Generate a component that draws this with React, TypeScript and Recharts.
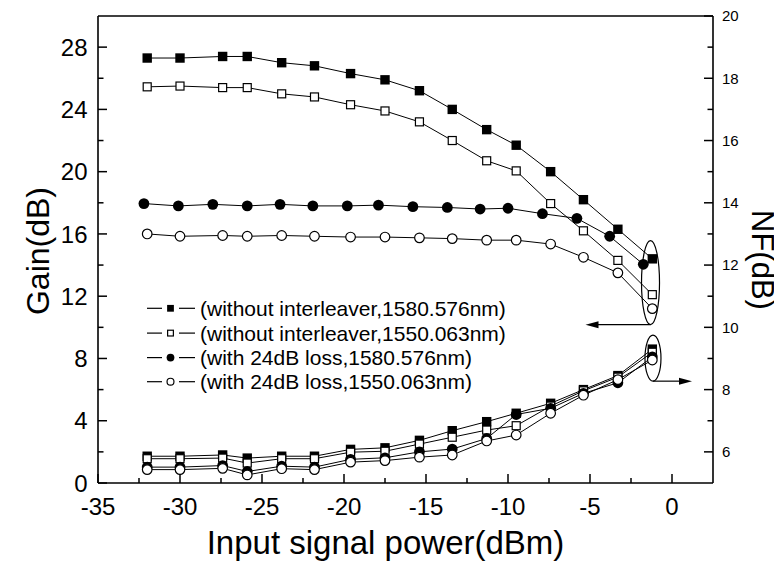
import React from 'react';
import { LineChart, Line, XAxis, YAxis, ReferenceLine, ReferenceDot } from 'recharts';

// input power (dBm) where each curve was sampled
const xSquare = [-32.0, -30.0, -27.4, -25.9, -23.8, -21.8, -19.6, -17.5, -15.4, -13.4, -11.3, -9.5, -7.4, -5.4, -3.3, -1.2];
const xCircle = [-32.2, -30.1, -28.0, -25.9, -23.9, -21.9, -19.8, -17.9, -15.8, -13.7, -11.7, -10.0, -7.9, -5.8, -3.8, -1.75];

// gain (dB), left axis
const gainFilledSquare = [27.3, 27.3, 27.4, 27.4, 27.0, 26.8, 26.3, 25.9, 25.2, 24.0, 22.7, 21.7, 20.0, 18.2, 16.3, 14.4];
const gainOpenSquare = [25.45, 25.5, 25.4, 25.4, 25.0, 24.8, 24.3, 23.9, 23.2, 22.0, 20.7, 20.05, 17.95, 16.2, 14.3, 12.1];
const gainFilledCircle = [17.95, 17.8, 17.9, 17.8, 17.9, 17.8, 17.8, 17.85, 17.75, 17.7, 17.6, 17.65, 17.3, 17.0, 15.85, 14.05];
const gainOpenCircle = [16.0, 15.85, 15.9, 15.85, 15.9, 15.85, 15.8, 15.8, 15.75, 15.7, 15.6, 15.6, 15.35, 14.5, 13.5, 11.2];

// noise figure (dB), right axis
const nfFilledSquare = [5.86, 5.86, 5.9, 5.8, 5.86, 5.86, 6.08, 6.13, 6.37, 6.68, 6.97, 7.24, 7.56, 8.0, 8.45, 9.3];
const nfOpenSquare = [5.78, 5.78, 5.8, 5.64, 5.78, 5.78, 5.99, 6.02, 6.25, 6.47, 6.7, 6.84, 7.47, 7.96, 8.4, 9.2];
const nfFilledCircle = [5.51, 5.51, 5.56, 5.37, 5.54, 5.51, 5.76, 5.81, 6.0, 6.09, 6.43, 7.2, 7.4, 7.88, 8.22, 9.05];
const nfOpenCircle = [5.43, 5.43, 5.47, 5.26, 5.46, 5.43, 5.67, 5.72, 5.83, 5.9, 6.35, 6.54, 7.24, 7.82, 8.32, 8.95];

const xTicks = [-35, -32.5, -30, -27.5, -25, -22.5, -20, -17.5, -15, -12.5, -10, -7.5, -5, -2.5, 0];
const gainTicks = [0, 2, 4, 6, 8, 10, 12, 14, 16, 18, 20, 22, 24, 26, 28];
const nfTicks = [6, 7, 8, 9, 10, 11, 12, 13, 14, 15, 16, 17, 18, 19, 20];

const legendLabels = [
  '(without interleaver,1580.576nm)',
  '(without interleaver,1550.063nm)',
  '(with 24dB loss,1580.576nm)',
  '(with 24dB loss,1550.063nm)',
];

type Kind = 'filledSquare' | 'openSquare' | 'filledCircle' | 'openCircle';
const kinds: Kind[] = ['filledSquare', 'openSquare', 'filledCircle', 'openCircle'];

const FONT = '"Liberation Sans", Arial, Helvetica, sans-serif';

const toRows = (xs: number[], ys: number[]) => xs.map((x, i) => ({ x, y: ys[i] }));

const series = [
  { id: 'g0', axis: 'gain', kind: kinds[0], data: toRows(xSquare, gainFilledSquare) },
  { id: 'g1', axis: 'gain', kind: kinds[1], data: toRows(xSquare, gainOpenSquare) },
  { id: 'g2', axis: 'gain', kind: kinds[2], data: toRows(xCircle, gainFilledCircle) },
  { id: 'g3', axis: 'gain', kind: kinds[3], data: toRows(xSquare, gainOpenCircle) },
  { id: 'n0', axis: 'nf', kind: kinds[0], data: toRows(xSquare, nfFilledSquare) },
  { id: 'n1', axis: 'nf', kind: kinds[1], data: toRows(xSquare, nfOpenSquare) },
  { id: 'n2', axis: 'nf', kind: kinds[2], data: toRows(xSquare, nfFilledCircle) },
  { id: 'n3', axis: 'nf', kind: kinds[3], data: toRows(xSquare, nfOpenCircle) },
];

function Marker({ cx, cy, kind, s = 1 }: { cx: number; cy: number; kind: Kind; s?: number }) {
  if (cx == null || cy == null) return null;
  if (kind === 'filledSquare') return <rect x={cx - 4.7 * s} y={cy - 4.7 * s} width={9.4 * s} height={9.4 * s} fill="#000" />;
  if (kind === 'openSquare')
    return <rect x={cx - 4 * s} y={cy - 4 * s} width={8 * s} height={8 * s} fill="#fff" stroke="#000" strokeWidth={1.2} />;
  if (kind === 'filledCircle') return <circle cx={cx} cy={cy} r={5.4 * s} fill="#000" />;
  return <circle cx={cx} cy={cy} r={4.8 * s} fill="#fff" stroke="#000" strokeWidth={1.2} />;
}

const XTick = ({ x, y, payload }: any) => {
  const v = payload.value;
  const major = Math.abs(v % 5) < 1e-6;
  return (
    <g>
      <line x1={x} x2={x} y1={y} y2={y - (major ? 9 : 5)} stroke="#000" strokeWidth={1.5} />
      {major && (
        <text x={x} y={y + 32} textAnchor="middle" fontSize={24} fontFamily={FONT} fill="#000">
          {v}
        </text>
      )}
    </g>
  );
};

const GainTick = ({ x, y, payload }: any) => {
  const v = payload.value;
  const major = v % 4 === 0;
  return (
    <g>
      <line x1={x} x2={x + (major ? 9 : 5.5)} y1={y} y2={y} stroke="#000" strokeWidth={1.5} />
      {major && (
        <text x={x - 10.5} y={y} dy="0.36em" textAnchor="end" fontSize={24} fontFamily={FONT} fill="#000">
          {v}
        </text>
      )}
    </g>
  );
};

const NfTick = ({ x, y, payload }: any) => {
  const v = payload.value;
  const major = v % 2 === 0;
  return (
    <g>
      <line x1={x} x2={x - (major ? 9 : 5.5)} y1={y} y2={y} stroke="#000" strokeWidth={1.5} />
      {major && (
        <text x={x + 9} y={y} dy="0.36em" textAnchor="start" fontSize={15} fontFamily={FONT} fill="#000">
          {v}
        </text>
      )}
    </g>
  );
};

// ellipse around the end points with an arrow pointing at the axis the curves belong to
const EllipseArrow = ({ cx, cy, rx, ry, dx }: any) => {
  if (cx == null || cy == null) return null;
  const by = cy + ry;
  const tip = cx + dx;
  const dir = dx < 0 ? -1 : 1;
  return (
    <g>
      <ellipse cx={cx} cy={cy} rx={rx} ry={ry} fill="none" stroke="#000" strokeWidth={1.2} />
      <line x1={cx} y1={by} x2={tip - dir * 10} y2={by} stroke="#000" strokeWidth={1.2} />
      <polygon points={`${tip},${by} ${tip - dir * 13},${by - 3.5} ${tip - dir * 13},${by + 3.5}`} fill="#000" />
    </g>
  );
};

function Overlay() {
  const rowY = [300.3, 325.1, 349.6, 373.7];
  return (
    <svg width={774} height={555} style={{ position: 'absolute', left: 0, top: 0, pointerEvents: 'none' }}>
      {legendLabels.map((label, i) => (
        <g key={label}>
          <line x1={139} x2={154} y1={rowY[i]} y2={rowY[i]} stroke="#000" strokeWidth={1.2} />
          <line x1={171} x2={187} y1={rowY[i]} y2={rowY[i]} stroke="#000" strokeWidth={1.2} />
          <Marker cx={162.5} cy={rowY[i]} kind={kinds[i]} s={0.72} />
          <text x={192} y={rowY[i]} dy="0.36em" fontSize={21} fontFamily={FONT} fill="#000">
            {label}
          </text>
        </g>
      ))}
      <text x={377.5} y={546} textAnchor="middle" fontSize={33} fontFamily={FONT} fill="#000">
        Input signal power(dBm)
      </text>
      <text x={29} y={243} dy="0.36em" textAnchor="middle" fontSize={32} fontFamily={FONT} fill="#000" transform="rotate(-90 29 243)">
        Gain(dB)
      </text>
      <text x={755} y={252} dy="0.36em" textAnchor="middle" fontSize={31} fontFamily={FONT} fill="#000" transform="rotate(90 755 252)">
        NF(dB)
      </text>
    </svg>
  );
}

export default function App() {
  return (
    <div style={{ position: 'relative', width: 774, height: 555, background: '#fff' }}>
      <LineChart width={774} height={555} margin={{ top: 8, right: 0, bottom: 0, left: 0 }}>
        <XAxis
          dataKey="x"
          type="number"
          domain={[-35, 2.5]}
          ticks={xTicks}
          interval={0}
          tickSize={0}
          tickMargin={0}
          tick={(p: any) => <XTick {...p} />}
          axisLine={{ stroke: '#000', strokeWidth: 1.6 }}
          height={80}
          allowDataOverflow
        />
        <YAxis
          yAxisId="gain"
          type="number"
          domain={[0, 30]}
          ticks={gainTicks}
          interval={0}
          tickSize={0}
          tickMargin={0}
          tick={(p: any) => <GainTick {...p} />}
          axisLine={{ stroke: '#000', strokeWidth: 1.6 }}
          width={90}
          allowDataOverflow
        />
        <YAxis
          yAxisId="nf"
          orientation="right"
          type="number"
          domain={[5, 20]}
          ticks={nfTicks}
          interval={0}
          tickSize={0}
          tickMargin={0}
          tick={(p: any) => <NfTick {...p} />}
          axisLine={{ stroke: '#000', strokeWidth: 1.6 }}
          width={69}
          allowDataOverflow
        />
        <ReferenceLine yAxisId="gain" y={30} stroke="#000" strokeWidth={1.6} />
        {series.map((s) => (
          <Line
            key={s.id}
            data={s.data}
            dataKey="y"
            yAxisId={s.axis}
            type="linear"
            stroke="#000"
            strokeWidth={1}
            isAnimationActive={false}
            activeDot={false}
            dot={(p: any) => <Marker key={`${s.id}-${p.index}`} cx={p.cx} cy={p.cy} kind={s.kind} />}
          />
        ))}
        <ReferenceDot
          yAxisId="gain"
          x={-1.31}
          y={12.87}
          r={0}
          ifOverflow="visible"
          shape={(p: any) => <EllipseArrow cx={p.cx} cy={p.cy} rx={9} ry={42} dx={-65} />}
        />
        <ReferenceDot
          yAxisId="nf"
          x={-1.16}
          y={9.01}
          r={0}
          ifOverflow="visible"
          shape={(p: any) => <EllipseArrow cx={p.cx} cy={p.cy} rx={8} ry={23} dx={39} />}
        />
      </LineChart>
      <Overlay />
    </div>
  );
}
